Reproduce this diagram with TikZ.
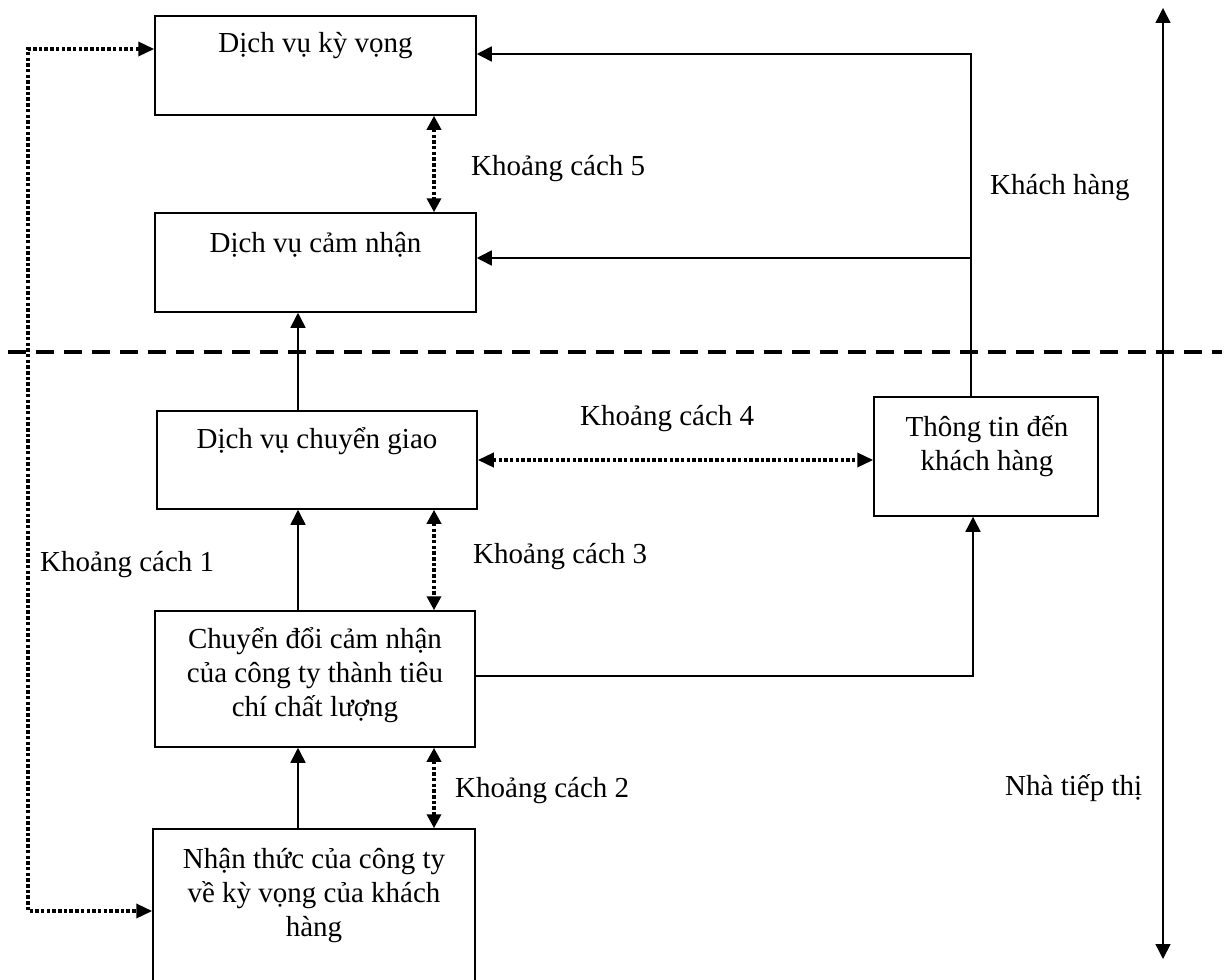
\documentclass[tikz,border=0pt]{standalone}
\usepackage{fontspec}
\setmainfont{Liberation Serif}
\usetikzlibrary{arrows.meta}

\begin{document}
\begin{tikzpicture}[x=1pt,y=-1pt,
  box/.style={draw, rectangle, line width=1.5pt, inner sep=0pt},
  txt/.style={font=\fontsize{29}{34}\selectfont, inner sep=0pt, align=center, anchor=base},
  lbl/.style={font=\fontsize{29}{34}\selectfont, inner sep=0pt, anchor=base west},
  link/.style={line width=1.5pt},
  arr/.style={link, -{Triangle[length=15pt,width=15pt]}},
  twoarr/.style={link, {Triangle[length=15pt,width=15pt]}-{Triangle[length=15pt,width=15pt]}},
  dotline/.style={line width=3.5pt, dash pattern=on 3.5pt off 2.2pt},
  dottwo/.style={dotline, {Triangle[length=14pt,width=14pt]}-{Triangle[length=14pt,width=14pt]}},
  dashline/.style={line width=3.5pt, dash pattern=on 18pt off 10pt}
]
\useasboundingbox (0,0) rectangle (1230,979);
\clip (0,0) rectangle (1230,979);

% boxes
\node[box, minimum width=321pt, minimum height=99pt]  (b1) at (315.5,65.5) {};
\node[box, minimum width=321pt, minimum height=99pt]  (b2) at (315.5,262.5) {};
\node[box, minimum width=320pt, minimum height=98pt]  (b3) at (317,460) {};
\node[box, minimum width=224pt, minimum height=119pt] (b4) at (986,456.5) {};
\node[box, minimum width=320pt, minimum height=136pt] (b5) at (315,679) {};
\node[box, minimum width=322pt, minimum height=171pt] (b6) at (314,914.5) {};

% box texts (base = baseline of the last line)
\node[txt] (t1) at (315.5,53) {Dịch vụ kỳ vọng};
\node[txt] (t2) at (315.5,252) {Dịch vụ cảm nhận};
\node[txt] (t3) at (317,448) {Dịch vụ chuyển giao};
\node[txt] (t4) at (987,470) {Thông tin đến\\khách hàng};
\node[txt] (t5) at (315,716) {Chuyển đổi cảm nhận\\của công ty thành tiêu\\chí chất lượng};
\node[txt] (t6) at (314,936) {Nhận thức của công ty\\về kỳ vọng của khách\\hàng};

% free labels
\node[lbl] (k5) at (471,175) {Khoảng cách 5};
\node[lbl] (kh) at (990,194) {Khách hàng};
\node[lbl] (k4) at (580,425) {Khoảng cách 4};
\node[lbl] (k3) at (473,563) {Khoảng cách 3};
\node[lbl] (k1) at (40,571) {Khoảng cách 1};
\node[lbl] (k2) at (455,797) {Khoảng cách 2};
\node[lbl] (nt) at (1005,795) {Nhà tiếp thị};

% guide coordinates
\coordinate (h1) at (8,352);
\coordinate (h2) at (1222,352);
\coordinate (m1) at (1163,8);
\coordinate (m2) at (1163,959);
\coordinate (cx) at (298,0);
\coordinate (gx) at (434,0);
\coordinate (r1) at (971,54);
\coordinate (r2) at (971,258);
\coordinate (r3) at (973,676);
\coordinate (d1) at (28,49);
\coordinate (d2) at (28,911);

% customer / marketer divider
\draw[dashline] (h1) -- (h2);

% side scale
\draw[twoarr] (m1) -- (m2);

% solid flows upward on the left
\draw[arr] (b3.north -| cx) -- (b2.south -| cx);
\draw[arr] (b5.north -| cx) -- (b3.south -| cx);
\draw[arr] (b6.north -| cx) -- (b5.south -| cx);

% communication to customers
\draw[arr] (b5.east |- r3) -- (r3) -- (b4.south -| r3);
\draw[arr] (b4.north -| r1) -- (r1) -- (b1.east |- r1);
\draw[arr] (r2) -- (b2.east |- r2);

% gaps
\draw[dottwo] (b1.south -| gx) -- (b2.north -| gx);
\draw[dottwo] (b3.south -| gx) -- (b5.north -| gx);
\draw[dottwo] (b5.south -| gx) -- (b6.north -| gx);
\draw[dotline, {Triangle[length=16pt,width=14pt]}-{Triangle[length=16pt,width=14pt]}] (b3.east) -- (b4.west |- b3.east);
\draw[dotline, {Triangle[length=16pt,width=14pt]}-{Triangle[length=16pt,width=14pt]}] (b1.west |- d1) -- (d1) -- (d2) -- (b6.west |- d2);
\end{tikzpicture}
\end{document}
